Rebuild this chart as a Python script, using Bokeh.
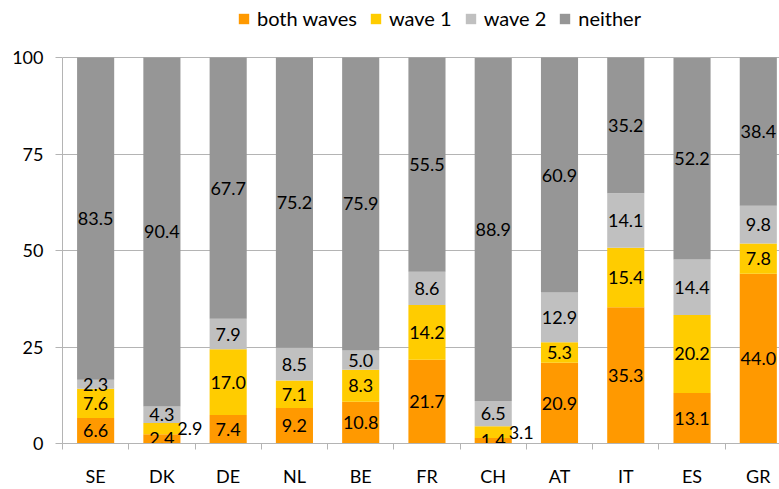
from bokeh.plotting import figure
from bokeh.models import ColumnDataSource, Range1d, FixedTicker, Legend, LegendItem
from bokeh.embed import file_html
from bokeh.resources import INLINE
from bokeh.core.properties import value

# ---- data ----
countries = ["SE", "DK", "DE", "NL", "BE", "FR", "CH", "AT", "IT", "ES", "GR"]
both_waves = [6.6, 2.4, 7.4, 9.2, 10.8, 21.7, 1.4, 20.9, 35.3, 13.1, 44.0]
wave_1 = [7.6, 2.9, 17.0, 7.1, 8.3, 14.2, 3.1, 5.3, 15.4, 20.2, 7.8]
wave_2 = [2.3, 4.3, 7.9, 8.5, 5.0, 8.6, 6.5, 12.9, 14.1, 14.4, 9.8]
neither = [83.5, 90.4, 67.7, 75.2, 75.9, 55.5, 88.9, 60.9, 35.2, 52.2, 38.4]
series_names = ["both waves", "wave 1", "wave 2", "neither"]
y_ticks = [0, 25, 50, 75, 100]

# ---- styles ----
colors = ["#FF9900", "#FFCC00", "#C0C0C0", "#969696"]
FONT = "Lato"
GRID = "#B4B4B4"
# labels that sit to the right of their (thin) segment
outside_labels = {("DK", "wave 1"), ("CH", "wave 1")}

keys = ["both", "w1", "w2", "neither"]
xs = [i + 0.5 for i in range(len(countries))]
source = ColumnDataSource(dict(x=xs, both=both_waves, w1=wave_1, w2=wave_2, neither=neither))

# frame spans to the top of the canvas so the legend can sit above the 100 line
p = figure(width=779, height=489, output_backend="svg", toolbar_location=None,
           x_range=Range1d(0, 10.82), y_range=Range1d(0, 100 * 443 / 386),
           min_border_left=62, min_border_right=0, min_border_top=0, min_border_bottom=46)
p.outline_line_color = None
p.background_fill_color = "white"

renderers = p.vbar_stack(keys, x="x", width=0.56, color=colors, line_color=None, source=source)

# data labels
lx, ly, lt, lo = [], [], [], []
series_vals = [both_waves, wave_1, wave_2, neither]
bottoms = [0.0] * len(countries)
for name, vals in zip(series_names, series_vals):
    for i, v in enumerate(vals):
        lx.append(xs[i])
        ly.append(bottoms[i] + v / 2)
        lt.append(f"{v:.1f}")
        lo.append(28 if (countries[i], name) in outside_labels else 0)
        bottoms[i] += v
lab = ColumnDataSource(dict(x=lx, y=ly, t=lt, o=lo))
p.text(x="x", y="y", text="t", x_offset="o", source=lab, text_align="center",
       text_baseline="middle", text_font=value(FONT), text_font_size="18px", text_color="#000000")

# axes
p.xaxis.ticker = FixedTicker(ticks=xs, minor_ticks=list(range(len(countries) + 1)))
p.xaxis.major_label_overrides = {x: c for x, c in zip(xs, countries)}
p.xaxis.major_tick_line_color = None
p.xaxis.major_tick_out = 0
p.xaxis.major_tick_in = 0
p.xaxis.minor_tick_out = 6
p.xaxis.minor_tick_in = 0
p.xaxis.minor_tick_line_color = GRID
p.xaxis.axis_line_color = GRID
p.xaxis.major_label_standoff = 15

p.yaxis.ticker = FixedTicker(ticks=y_ticks)
p.yaxis.bounds = (0, 100)
p.yaxis.major_tick_out = 7
p.yaxis.major_tick_in = 0
p.yaxis.minor_tick_line_color = None
p.yaxis.major_tick_line_color = GRID
p.yaxis.axis_line_color = GRID
p.yaxis.major_label_standoff = 12

for ax in (p.xaxis, p.yaxis):
    ax.major_label_text_font = FONT
    ax.major_label_text_font_size = "18px"
    ax.major_label_text_color = "#000000"

p.xgrid.grid_line_color = None
p.ygrid.ticker = FixedTicker(ticks=y_ticks[1:])
p.ygrid.grid_line_color = GRID
p.ygrid.level = "underlay"

legend = Legend(items=[LegendItem(label=n, renderers=[r]) for n, r in zip(series_names, renderers)],
                orientation="horizontal", location=(175, 413), padding=0, margin=0,
                spacing=12, label_standoff=7, glyph_width=13, glyph_height=13,
                label_text_font=FONT, label_text_font_size="20px", label_text_color="#000000",
                border_line_color=None, background_fill_alpha=0)
p.add_layout(legend, "center")

open("out.html", "w").write(file_html(p, INLINE))
